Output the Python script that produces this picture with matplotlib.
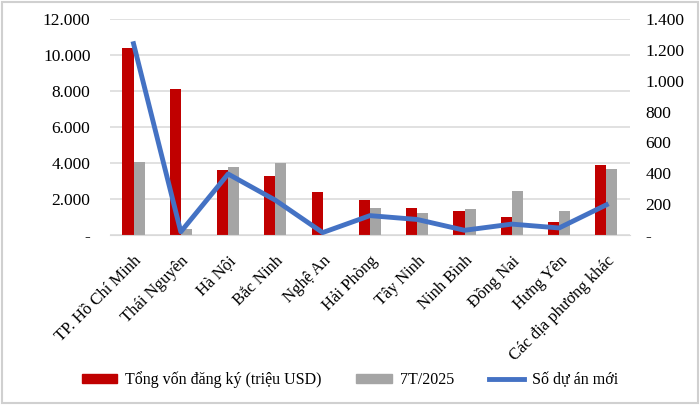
import numpy as np
import matplotlib.pyplot as plt
from matplotlib.ticker import FuncFormatter
from matplotlib.patches import Rectangle
from matplotlib.lines import Line2D

plt.rcParams['font.family'] = ['Liberation Serif', 'DejaVu Serif']

provinces = ['TP. Hồ Chí Minh', 'Thái Nguyên', 'Hà Nội', 'Bắc Ninh', 'Nghệ An', 'Hải Phòng',
             'Tây Ninh', 'Ninh Bình', 'Đồng Nai', 'Hưng Yên', 'Các địa phương khác']
von_dang_ky = [10370, 8090, 3610, 3280, 2400, 1940, 1500, 1310, 1020, 720, 3900]
t7_2025 = [4040, 310, 3760, 4000, 0, 1500, 1200, 1450, 2460, 1310, 3650]
so_du_an = [1240, 20, 395, 225, 15, 125, 100, 30, 70, 45, 195]

red = '#C00000'
grey = '#A5A5A5'
blue = '#4472C4'

def thousands(v, pos):
    if v == 0:
        return '-'
    return f'{int(v):,}'.replace(',', '.')

fig = plt.figure(figsize=(7, 4.05), dpi=100)
fig.patches.append(Rectangle((0.003, 0.004), 0.994, 0.992, transform=fig.transFigure,
                             fill=False, edgecolor='#D0D0D0', linewidth=1.5))
ax = fig.add_axes([0.157, 0.42, 0.743, 0.533])
x = np.arange(len(provinces))
w = 0.235
ax.bar(x - w / 2, von_dang_ky, w, color=red, zorder=2)
ax.bar(x + w / 2, t7_2025, w, color=grey, zorder=2)
ax.set_ylim(0, 12000)
ax.set_yticks(np.arange(0, 12001, 2000))
ax.yaxis.set_major_formatter(FuncFormatter(thousands))
ax.set_xlim(-0.5, len(provinces) - 0.5)
ax.grid(axis='y', color='#D9D9D9', linewidth=1.1, zorder=0)
ax.set_xticks(x)
ax.set_xticklabels(provinces, rotation=45, ha='right', rotation_mode='anchor', fontsize=12)
ax.tick_params(axis='both', length=0)
ax.tick_params(axis='y', pad=14, labelsize=12.5)
ax.tick_params(axis='x', pad=13)
for s in ['top', 'right', 'left']:
    ax.spines[s].set_visible(False)
ax.spines['bottom'].set_color('#D9D9D9')

ax2 = ax.twinx()
ax2.plot(x, so_du_an, color=blue, linewidth=3.5, zorder=3)
ax2.set_ylim(0, 1400)
ax2.set_yticks(np.arange(0, 1401, 200))
ax2.yaxis.set_major_formatter(FuncFormatter(thousands))
ax2.tick_params(axis='y', length=0, labelsize=12.5, pad=11)
for s in ax2.spines.values():
    s.set_visible(False)

handles = [Rectangle((0, 0), 1, 1, color=red), Rectangle((0, 0), 1, 1, color=grey),
           Line2D([0], [0], color=blue, linewidth=3.5)]
labels = ['Tổng vốn đăng ký (triệu USD)', '7T/2025', 'Số dự án mới']
fig.legend(handles, labels, loc='center', bbox_to_anchor=(0.5, 0.062), ncol=3, frameon=False,
           fontsize=11.5, handlelength=2.2, handleheight=0.5, handletextpad=0.5,
           columnspacing=2.2)

fig.savefig('out.png', dpi=100)
